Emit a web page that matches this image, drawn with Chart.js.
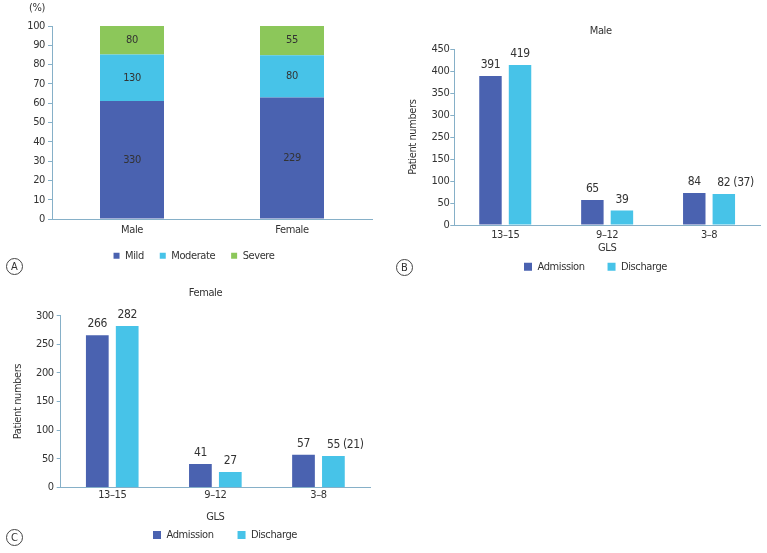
<!DOCTYPE html>
<html>
<head>
<meta charset="utf-8">
<script src="https://cdn.jsdelivr.net/npm/chart.js@4.4.0/dist/chart.umd.min.js"></script>
<style>
  html, body { margin: 0; padding: 0; background: #fff; width: 767px; height: 553px; overflow: hidden; }
  canvas { position: absolute; }
  .tag {
    position: absolute; box-sizing: border-box; width: 17px; height: 17px;
    border: 1px solid #444; border-radius: 50%; color: #333; text-align: center;
    font: 11px "DejaVu Sans Condensed", "Liberation Sans Narrow", sans-serif; line-height: 15px;
  }
</style>
</head>
<body>
<canvas id="chartA" width="388" height="274" style="left:0;top:0"></canvas>
<canvas id="chartB" width="377" height="299" style="left:390px;top:0"></canvas>
<canvas id="chartC" width="380" height="289" style="left:0;top:280px"></canvas>
<div class="tag" style="left:6px;top:258px">A</div>
<div class="tag" style="left:396px;top:259px">B</div>
<div class="tag" style="left:6px;top:529px">C</div>
<script>
// Panel A: severity share by sex (%), counts printed inside
const sexes = ["Male", "Female"];
const mildPct = [61.1, 62.9];
const moderatePct = [24.1, 22.0];
const severePct = [14.8, 15.1];
const mildCount = [330, 229];
const moderateCount = [130, 80];
const severeCount = [80, 55];

// Panels B and C: GLS groups
const glsGroups = ["13–15", "9–12", "3–8"];

// Male: bar heights as drawn (axis skips 200), printed values above
const maleTickLabels = ["0", "50", "100", "150", "250", "300", "350", "400", "450"];
const maleAdmission = [339, 57, 73];
const maleDischarge = [364, 33, 71];
const maleAdmissionText = ["391", "65", "84"];
const maleDischargeText = ["419", "39", "82 (37)"];

// Female
const femaleAdmission = [266, 41, 57];
const femaleDischarge = [282, 27, 55];
const femaleAdmissionText = ["266", "41", "57"];
const femaleDischargeText = ["282", "27", "55 (21)"];

const FONT = '"DejaVu Sans Condensed", "Liberation Sans Narrow", sans-serif';
const DARK = "#4a62b0";
const CYAN = "#47c3e8";
const GREEN = "#8cc75a";
const AXIS = "#86b0c8";

Chart.defaults.font.family = FONT;
Chart.defaults.font.size = 11;
Chart.defaults.color = "#333";

// the figure uses a narrow face; tighten the condensed one a little
Chart.register({
  id: "tightText",
  beforeLayout(chart) { chart.ctx.letterSpacing = "-0.4px"; },
  beforeDraw(chart) { chart.ctx.letterSpacing = "-0.4px"; },
});

// moves legend / title after layout so they sit where the figure has them
const boxShift = {
  id: "boxShift",
  afterLayout(chart, args, opts) {
    [["legend", opts.legend], ["titleBlock", opts.title]].forEach(([key, d]) => {
      const box = chart[key];
      if (!box || !d) return;
      box.left += d.dx || 0;
      box.right += d.dx || 0;
      box.top += d.dy || 0;
      box.bottom += d.dy || 0;
    });
  },
};

// numbers on / above the bars
const barText = {
  id: "barText",
  afterDatasetsDraw(chart, args, opts) {
    const ctx = chart.ctx;
    ctx.save();
    ctx.font = (opts.size || 11) + "px " + FONT;
    ctx.fillStyle = "#333";
    ctx.textBaseline = "middle";
    (opts.texts || []).forEach((texts, i) => {
      chart.getDatasetMeta(i).data.forEach((bar, j) => {
        const t = String(texts[j]);
        if (opts.inside) {
          ctx.textAlign = "center";
          ctx.fillText(t, bar.x, (bar.y + bar.base) / 2);
        } else {
          const head = t.split(" ")[0];
          ctx.textAlign = "left";
          ctx.fillText(t, bar.x - ctx.measureText(head).width / 2, bar.y - opts.gap);
        }
      });
    });
    ctx.restore();
  },
};

// loose text such as the (%) unit
const noteText = {
  id: "noteText",
  afterDraw(chart, args, opts) {
    const ctx = chart.ctx;
    ctx.save();
    ctx.font = "11px " + FONT;
    ctx.fillStyle = "#333";
    ctx.textAlign = "center";
    ctx.textBaseline = "middle";
    (opts.items || []).forEach((it) => ctx.fillText(it.text, it.x, it.y));
    ctx.restore();
  },
};

// Panel A
new Chart(document.getElementById("chartA"), {
  type: "bar",
  data: {
    labels: sexes,
    datasets: [
      { label: "Mild", data: mildPct, backgroundColor: DARK },
      { label: "Moderate", data: moderatePct, backgroundColor: CYAN },
      { label: "Severe", data: severePct, backgroundColor: GREEN },
    ],
  },
  options: {
    responsive: false,
    animation: false,
    layout: { padding: { left: 0, right: 16, top: 26, bottom: 0 } },
    datasets: { bar: { categoryPercentage: 1, barPercentage: 0.4 } },
    scales: {
      x: {
        stacked: true,
        grid: { display: false, drawTicks: false },
        border: { color: AXIS },
        ticks: { padding: 4.4 },
        afterFit: (s) => { s.height = 18; },
      },
      y: {
        stacked: true,
        min: 0,
        max: 100,
        ticks: { stepSize: 10, padding: 3 },
        grid: { drawOnChartArea: false, tickLength: 4, color: AXIS },
        border: { color: AXIS },
        afterFit: (s) => { s.width = 52; },
      },
    },
    plugins: {
      legend: { position: "bottom", labels: { boxWidth: 6, boxHeight: 6, padding: 16 } },
      tooltip: { enabled: false },
      boxShift: { legend: { dx: 8, dy: -2.8 } },
      barText: { inside: true, size: 11, texts: [mildCount, moderateCount, severeCount] },
      noteText: { items: [{ text: "(%)", x: 37, y: 8 }] },
    },
  },
  plugins: [boxShift, barText, noteText],
});

// Panel B
new Chart(document.getElementById("chartB"), {
  type: "bar",
  data: {
    labels: glsGroups,
    datasets: [
      { label: "Admission", data: maleAdmission, backgroundColor: DARK },
      { label: "Discharge", data: maleDischarge, backgroundColor: CYAN },
    ],
  },
  options: {
    responsive: false,
    animation: false,
    layout: { padding: { left: 0, right: 7, top: 0, bottom: 0 } },
    datasets: { bar: { categoryPercentage: 0.58, barPercentage: 0.76 } },
    scales: {
      x: {
        grid: { display: false, drawTicks: false },
        border: { color: AXIS },
        ticks: { padding: 3.4 },
        title: { display: true, text: "GLS", padding: { top: 0, bottom: 0 } },
        afterFit: (s) => { s.height = 29.9; },
      },
      y: {
        min: 0,
        max: 400,
        ticks: { stepSize: 50, padding: 1, callback: (v, i) => maleTickLabels[i] },
        grid: { drawOnChartArea: false, tickLength: 4, color: AXIS },
        border: { color: AXIS },
        title: { display: true, text: "Patient numbers", padding: { top: 16.4, bottom: 0 } },
        afterFit: (s) => { s.width = 64.3; },
      },
    },
    plugins: {
      title: { display: true, text: "Male", font: { weight: "normal", size: 11 }, color: "#333", padding: { top: 24.4, bottom: 11.7 } },
      legend: { position: "bottom", labels: { boxWidth: 8, boxHeight: 8, padding: 23 } },
      tooltip: { enabled: false },
      boxShift: { title: { dx: 25.7 }, legend: { dx: 20.5, dy: -16.8 } },
      barText: { gap: 11, size: 12, texts: [maleAdmissionText, maleDischargeText] },
    },
  },
  plugins: [boxShift, barText],
});

// Panel C
new Chart(document.getElementById("chartC"), {
  type: "bar",
  data: {
    labels: glsGroups,
    datasets: [
      { label: "Admission", data: femaleAdmission, backgroundColor: DARK },
      { label: "Discharge", data: femaleDischarge, backgroundColor: CYAN },
    ],
  },
  options: {
    responsive: false,
    animation: false,
    layout: { padding: { left: 0, right: 10, top: 0, bottom: 0 } },
    datasets: { bar: { categoryPercentage: 0.58, barPercentage: 0.76 } },
    scales: {
      x: {
        grid: { display: false, drawTicks: false },
        border: { color: AXIS },
        ticks: { padding: 1 },
        title: { display: true, text: "GLS", padding: { top: 0, bottom: 0 } },
        afterFit: (s) => { s.height = 36.6; },
      },
      y: {
        min: 0,
        max: 300,
        ticks: { stepSize: 50, padding: 3 },
        grid: { drawOnChartArea: false, tickLength: 4, color: AXIS },
        border: { color: AXIS },
        title: { display: true, text: "Patient numbers", padding: { top: 11.7, bottom: 0 } },
        afterFit: (s) => { s.width = 60.7; },
      },
    },
    plugins: {
      title: { display: true, text: "Female", font: { weight: "normal", size: 11 }, color: "#333", padding: { top: 6.4, bottom: 16.1 } },
      legend: { position: "bottom", labels: { boxWidth: 8, boxHeight: 8, padding: 24 } },
      tooltip: { enabled: false },
      boxShift: { title: { dx: 20.5 }, legend: { dx: 40, dy: -18.5 } },
      barText: { gap: 11, size: 12, texts: [femaleAdmissionText, femaleDischargeText] },
    },
  },
  plugins: [boxShift, barText],
});
</script>
</body>
</html>
